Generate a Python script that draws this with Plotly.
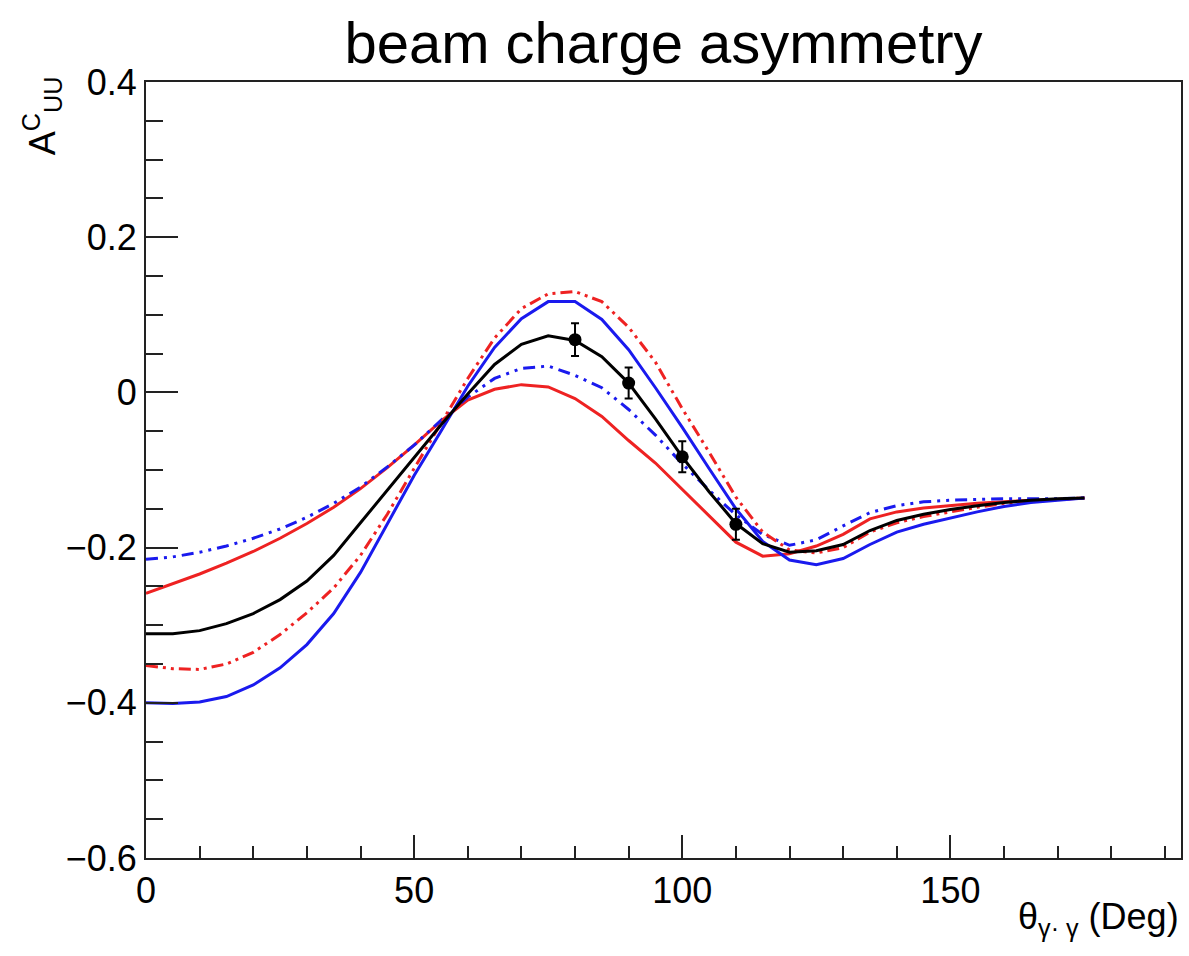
import plotly.graph_objects as go

theta = [0, 5, 10, 15, 20, 25, 30, 35, 40, 45, 50, 55, 60, 65, 70, 75, 80, 85,
         90, 95, 100, 105, 110, 115, 120, 125, 130, 135, 140, 145, 150, 155, 160, 165, 170, 175]

black_solid = [-0.311, -0.311, -0.307, -0.298, -0.285, -0.267, -0.243, -0.210, -0.168, -0.126,
               -0.084, -0.042, -0.002, 0.036, 0.062, 0.073, 0.067, 0.046,
               0.012, -0.034, -0.083, -0.128, -0.169, -0.195, -0.206, -0.204, -0.196, -0.178,
               -0.165, -0.157, -0.151, -0.146, -0.142, -0.139, -0.137, -0.136]

blue_solid = [-0.400, -0.401, -0.399, -0.392, -0.377, -0.355, -0.325, -0.285, -0.232, -0.170,
              -0.107, -0.050, 0.008, 0.058, 0.095, 0.117, 0.117, 0.094,
              0.055, 0.006, -0.045, -0.098, -0.150, -0.192, -0.216, -0.222, -0.214, -0.196,
              -0.180, -0.170, -0.162, -0.154, -0.147, -0.142, -0.139, -0.136]

red_dashdot = [-0.352, -0.356, -0.357, -0.350, -0.335, -0.312, -0.284, -0.252, -0.210, -0.157,
               -0.098, -0.040, 0.018, 0.070, 0.108, 0.127, 0.130, 0.117,
               0.084, 0.039, -0.021, -0.077, -0.135, -0.180, -0.203, -0.207, -0.200, -0.180,
               -0.168, -0.160, -0.154, -0.148, -0.143, -0.140, -0.138, -0.136]

red_solid = [-0.259, -0.247, -0.234, -0.220, -0.205, -0.188, -0.169, -0.148, -0.124, -0.097,
             -0.068, -0.037, -0.010, 0.004, 0.010, 0.007, -0.008, -0.031,
             -0.062, -0.091, -0.125, -0.160, -0.193, -0.211, -0.208, -0.198, -0.183, -0.163,
             -0.154, -0.149, -0.146, -0.143, -0.141, -0.139, -0.138, -0.136]

blue_dashdot = [-0.215, -0.212, -0.206, -0.198, -0.188, -0.176, -0.161, -0.143, -0.122, -0.096,
                -0.068, -0.036, -0.006, 0.018, 0.031, 0.034, 0.022, 0.006,
                -0.022, -0.055, -0.092, -0.126, -0.158, -0.183, -0.197, -0.190, -0.172, -0.155,
                -0.146, -0.141, -0.139, -0.138, -0.137, -0.137, -0.137, -0.136]

data_x = [80, 90, 100, 110]
data_y = [0.068, 0.012, -0.083, -0.170]
data_err = [0.021, 0.020, 0.020, 0.020]

y_tickvals = [0.4, 0.2, 0.0, -0.2, -0.4, -0.6]
y_ticktext = ["0.4", "0.2", "0", "\u22120.2", "\u22120.4", "\u22120.6"]
x_tickvals = [0, 50, 100, 150]
x_ticktext = ["0", "50", "100", "150"]

fig = go.Figure()

def add_line(y, color, dash):
    fig.add_trace(go.Scatter(x=theta, y=y, mode="lines",
                             line=dict(color=color, width=3, dash=dash),
                             showlegend=False, hoverinfo="skip"))

add_line(red_solid, "#ee2222", "solid")
add_line(blue_dashdot, "#1a1aee", "12px,6px,3px,6px,3px,6px")
add_line(red_dashdot, "#ee2222", "12px,5px,3px,5px,3px,5px")
add_line(blue_solid, "#1a1aee", "solid")
add_line(black_solid, "#000000", "solid")

fig.add_trace(go.Scatter(x=data_x, y=data_y, mode="markers",
                         marker=dict(color="black", size=13, symbol="circle"),
                         error_y=dict(type="data", array=data_err, color="black",
                                      thickness=2, width=4),
                         showlegend=False))

tickfont = dict(family="Liberation Sans, Arial, sans-serif", size=36, color="black")

fig.update_layout(
    width=1189, height=956,
    margin=dict(l=146, r=6, t=82, b=98),
    plot_bgcolor="white", paper_bgcolor="white",
    title=dict(text="beam charge asymmetry", x=0.5, xref="paper", xanchor="center",
               y=0.955, yref="container", yanchor="middle",
               font=dict(family="Liberation Sans, sans-serif",
                         size=58, color="black")),
    xaxis=dict(range=[0, 193], tickvals=x_tickvals, ticktext=x_ticktext,
               ticks="inside", ticklen=23,
               tickwidth=2, tickcolor="#222", showline=True, linecolor="#222",
               linewidth=2, mirror=True, showgrid=False, zeroline=False,
               tickfont=tickfont,
               minor=dict(dtick=10, tick0=0, ticks="inside", ticklen=12, tickwidth=2,
                          tickcolor="#222", showgrid=False)),
    yaxis=dict(range=[-0.6, 0.4], tickvals=y_tickvals, ticktext=y_ticktext,
               ticks="inside", ticklen=32,
               tickwidth=2, tickcolor="#222", showline=True, linecolor="#222",
               linewidth=2, mirror=True, showgrid=False, zeroline=False,
               tickfont=tickfont,
               minor=dict(dtick=0.05, tick0=0, ticks="inside", ticklen=17, tickwidth=2,
                          tickcolor="#222", showgrid=False)),
)

fig.add_annotation(text="θ<sub>γ· γ</sub> (Deg)", xref="paper", yref="paper",
                   x=1.0, y=-0.047, xanchor="right", yanchor="top", showarrow=False,
                   font=dict(family="Liberation Sans, Arial, sans-serif", size=36, color="black"))

fig.add_annotation(text="A<sup>C</sup><sub>UU</sub>", xref="paper", yref="paper",
                   x=-0.1, y=1.01, xanchor="center", yanchor="top", showarrow=False,
                   textangle=-90,
                   font=dict(family="Liberation Sans, Arial, sans-serif", size=36, color="black"))

fig.write_html("out.html")
